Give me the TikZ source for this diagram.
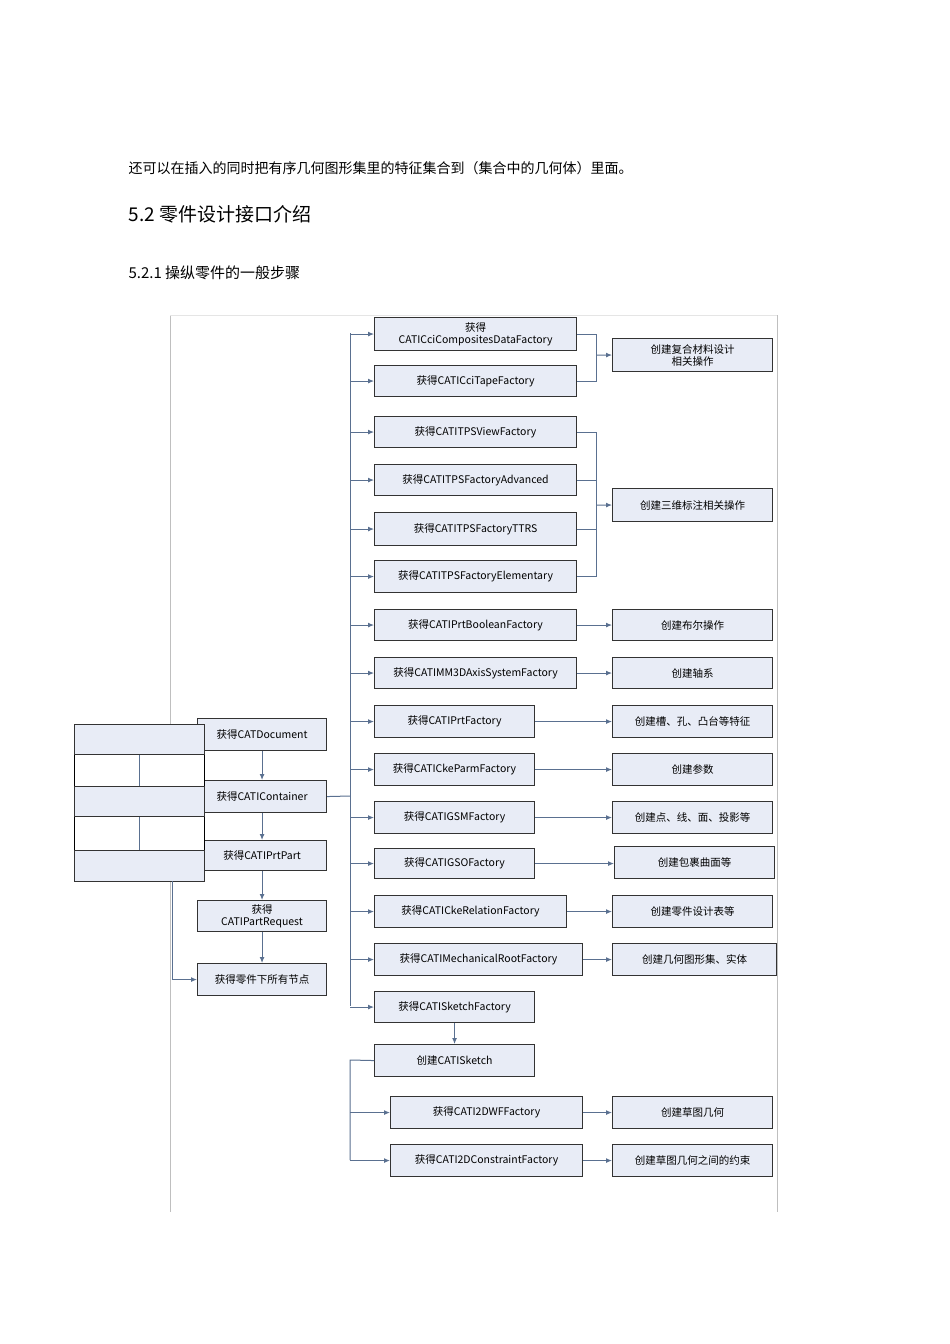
\documentclass[tikz,border=0pt]{standalone}
\usepackage{fontspec}
\setmainfont{Noto Sans CJK SC}
\usetikzlibrary{arrows.meta}
\definecolor{boxfill}{HTML}{E8ECF6}
\definecolor{conn}{HTML}{5A7090}
\tikzset{x=1pt,y=-1pt,
 bx/.style={draw=black!80,line width=1.1pt,fill=boxfill,inner sep=0pt,font=\fontsize{10.5}{12}\selectfont,align=center},
 cn/.style={draw=conn,line width=1pt},
 ar/.style={cn,-{Latex[length=6pt,width=5pt]}}}
\newcommand{\bxn}[6]{\node[bx,minimum width=#4-#2,minimum height=#5-#3,anchor=north west] (#1) at (#2,#3) {#6};}
\begin{document}
\begin{tikzpicture}
\useasboundingbox[fill=white] (0,0) rectangle (950,1344);
\node[anchor=west,font=\fontsize{14}{16}\selectfont] (t1) at (125,168) {还可以在插入的同时把有序几何图形集里的特征集合到（集合中的几何体）里面。};
\node[anchor=west,font=\fontsize{19}{21}\selectfont] (t2) at (125,214) {5.2 零件设计接口介绍};
\node[anchor=west,font=\fontsize{15}{17}\selectfont] (t3) at (125,273) {5.2.1 操纵零件的一般步骤};
\draw[black!25,line width=0.8pt] (170,315) -- (170,1212) (777,315) -- (777,1212);
\draw[black!10,line width=0.6pt] (170,315) -- (777,315);
% left chain
\bxn{d1}{197}{718}{326}{750}{获得CATDocument}
\bxn{d2}{197}{780}{326}{812}{获得CATIContainer}
\bxn{d3}{197}{840}{326}{870}{获得CATIPrtPart}
\bxn{d4}{197}{900}{326}{931}{获得\\CATIPartRequest}
\bxn{d5}{197}{963}{326}{995}{获得零件下所有节点}
\draw[ar] (d1) -- (d2);
\draw[ar] (d2) -- (d3);
\draw[ar] (d3) -- (d4);
\draw[ar] (d4) -- (d5);
% overlay boxes
\node[draw=black,line width=1pt,fill=white,minimum width=130,minimum height=157,inner sep=0pt,anchor=north west] (ov) at (74,724) {};
\bxn{o1}{74}{724}{204}{754}{}
\bxn{o2}{74}{786}{204}{816}{}
\bxn{o3}{74}{850}{204}{881}{}
\draw[cn] (o1.south) -- (o2.north);
\draw[cn] (o2.south) -- (o3.north);
\coordinate (lf) at (172,881);
\draw[ar] (lf) |- (d5.west);
% right column
\bxn{a1}{374}{317}{576}{350}{获得\\CATICciCompositesDataFactory}
\bxn{a2}{374}{365}{576}{396}{获得CATICciTapeFactory}
\bxn{a3}{374}{416}{576}{447}{获得CATITPSViewFactory}
\bxn{a4}{374}{464}{576}{495}{获得CATITPSFactoryAdvanced}
\bxn{a5}{374}{512}{576}{545}{获得CATITPSFactoryTTRS}
\bxn{a6}{374}{560}{576}{592}{获得CATITPSFactoryElementary}
\bxn{a7}{374}{609}{576}{640}{获得CATIPrtBooleanFactory}
\bxn{a8}{374}{657}{576}{688}{获得CATIMM3DAxisSystemFactory}
\bxn{a9}{374}{705}{534}{737}{获得CATIPrtFactory}
\bxn{a10}{374}{753}{534}{785}{获得CATICkeParmFactory}
\bxn{a11}{374}{801}{534}{833}{获得CATIGSMFactory}
\bxn{a12}{374}{848}{534}{878}{获得CATIGSOFactory}
\bxn{a13}{374}{895}{566}{927}{获得CATICkeRelationFactory}
\bxn{a14}{374}{943}{582}{975}{获得CATIMechanicalRootFactory}
\bxn{a15}{374}{991}{534}{1022}{获得CATISketchFactory}
\bxn{a16}{374}{1044}{534}{1076}{创建CATISketch}
\bxn{a17}{390}{1096}{582}{1128}{获得CATI2DWFFactory}
\bxn{a18}{390}{1144}{582}{1176}{获得CATI2DConstraintFactory}
\bxn{r1}{612}{338}{772}{371}{创建复合材料设计\\相关操作}
\bxn{r2}{612}{488}{772}{521}{创建三维标注相关操作}
\bxn{r3}{612}{609}{772}{640}{创建布尔操作}
\bxn{r4}{612}{657}{772}{688}{创建轴系}
\bxn{r5}{612}{705}{772}{737}{创建槽、孔、凸台等特征}
\bxn{r6}{612}{753}{772}{785}{创建参数}
\bxn{r7}{612}{801}{772}{833}{创建点、线、面、投影等}
\bxn{r8}{614}{846}{774}{878}{创建包裹曲面等}
\bxn{r9}{612}{895}{772}{927}{创建零件设计表等}
\bxn{r10}{612}{943}{776}{975}{创建几何图形集、实体}
\bxn{r11}{612}{1096}{772}{1128}{创建草图几何}
\bxn{r12}{612}{1144}{772}{1176}{创建草图几何之间的约束}
% trunk
\coordinate (tk) at (350,796);
\draw[cn] (d2.east) -- (tk);
\draw[cn] (350,333) -- (350,1006);
\foreach \n in {a1,a2,a3,a4,a5,a6,a7,a8,a9,a10,a11,a12,a13,a14,a15}
  \draw[ar] (\n.west -| tk) -- (\n.west);
\draw[ar] (a15) -- (a16);
\coordinate (tk2) at (350,1060);
\draw[cn] (a16.west) -- (tk2) -- (350,1160);
\draw[ar] (a17.west -| tk2) -- (a17.west);
\draw[ar] (a18.west -| tk2) -- (a18.west);
% brackets
\coordinate (b1) at (596,355);
\draw[cn] (a1.east) -| (b1) (a2.east) -| (b1);
\draw[ar] (b1) -- (r1.west);
\coordinate (b2) at (596,505);
\draw[cn] (a3.east) -| (b2) (a4.east) -| (b2) (a5.east) -| (b2) (a6.east) -| (b2);
\draw[ar] (b2) -- (r2.west);
\foreach \a/\r in {a7/r3,a8/r4,a9/r5,a10/r6,a11/r7,a13/r9,a14/r10,a17/r11,a18/r12}
  \draw[ar] (\a.east) -- (\r.west);
\draw[ar] (a12.east) -- (r8.west |- a12.east);
\end{tikzpicture}
\end{document}
